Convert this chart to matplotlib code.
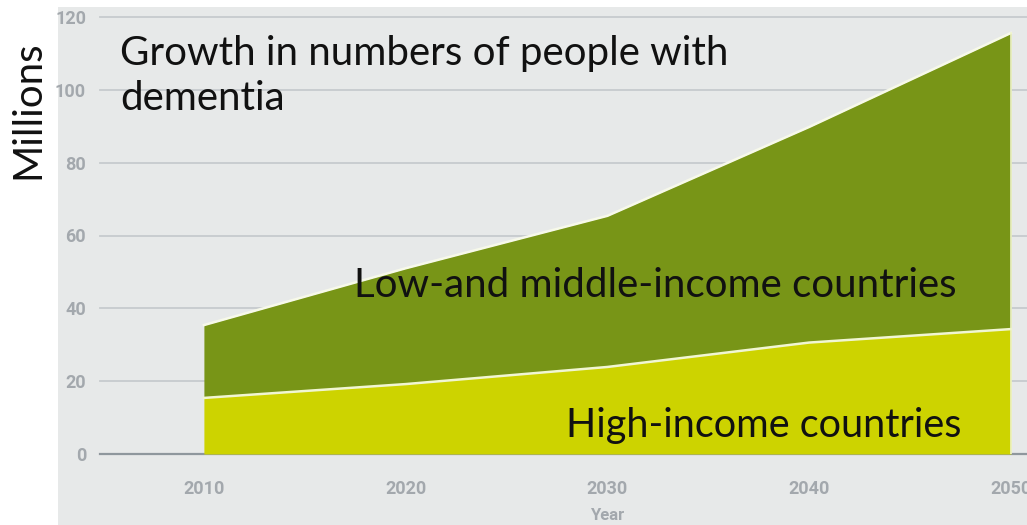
import matplotlib.pyplot as plt
from matplotlib.patches import Rectangle

years = [2010, 2020, 2030, 2040, 2050]
high_income = [15.4, 19.2, 23.9, 30.6, 34.3]
total = [35.4, 51.0, 65.4, 89.8, 115.6]
y_ticks = [0, 20, 40, 60, 80, 100, 120]

tick_font = ['Liberation Sans Narrow', 'Roboto', 'DejaVu Sans']
text_font = ['Lato', 'DejaVu Sans']

fig = plt.figure(figsize=(10.27, 5.25), dpi=100)
fig.patch.set_facecolor('white')

# grey panel behind the chart, tick labels included
fig.patches.append(Rectangle((58 / 1027, 0), 1, 518 / 525, transform=fig.transFigure,
                             facecolor='#e7e9e9', edgecolor='none', zorder=-10))

ax = fig.add_axes([100 / 1027, 71 / 525, 927 / 1027, 437 / 525])
ax.set_facecolor('none')
ax.set_xlim(2004.85, 2050.8)
ax.set_ylim(0, 120)

for s in ax.spines.values():
    s.set_visible(False)

ax.set_yticks(y_ticks)
ax.set_xticks(years)
ax.tick_params(length=0, colors='#a3a8ad', labelsize=13)
ax.tick_params(axis='y', pad=10)
ax.tick_params(axis='x', pad=19)
for lab in ax.get_xticklabels() + ax.get_yticklabels():
    lab.set_family(tick_font)
    lab.set_fontweight('bold')

ax.grid(axis='y', color='#c6cbce', linewidth=1.3)
ax.get_ygridlines()[0].set_color('#8f979d')
ax.get_ygridlines()[0].set_linewidth(1.6)
for g in ax.get_ygridlines():
    g.set_clip_on(False)
ax.set_axisbelow(True)

ax.fill_between(years, 0, high_income, color='#cdd300', zorder=2, linewidth=0)
ax.fill_between(years, high_income, total, color='#789517', zorder=2, linewidth=0)
ax.plot(years, high_income, color='#f1f6d2', linewidth=1.8, zorder=3)
ax.plot(years, total, color='#f7f9ea', linewidth=1.8, zorder=3)
ax.plot([years[-1], years[-1]], [0, total[-1]], color='#eef3c8', linewidth=1.2, zorder=3)

ax.set_xlabel('Year', family=tick_font, fontweight='bold', color='#a3a8ad', fontsize=12)
ax.xaxis.set_label_coords(0.547, -0.14)
ax.xaxis.label.set_va('center')

fig.text(28 / 1027, 1 - 110 / 525, 'Millions', rotation=90, ha='center', va='center',
         fontsize=29, family=text_font, color='#111111')

ax.text(0.0216, 106.8, 'Growth in numbers of people with', ha='left', va='baseline',
        transform=ax.get_yaxis_transform(), fontsize=29, family=text_font, color='#111111')
ax.text(0.0216, 94.5, 'dementia', ha='left', va='baseline',
        transform=ax.get_yaxis_transform(), fontsize=29, family=text_font, color='#111111')
ax.text(2017.45, 43.1, 'Low-and middle-income countries', ha='left', va='baseline',
        fontsize=29, family=text_font, color='#111111', zorder=4)
ax.text(2027.95, 4.7, 'High-income countries', ha='left', va='baseline',
        fontsize=28.5, family=text_font, color='#111111', zorder=4)

fig.savefig('out.png', dpi=100)
